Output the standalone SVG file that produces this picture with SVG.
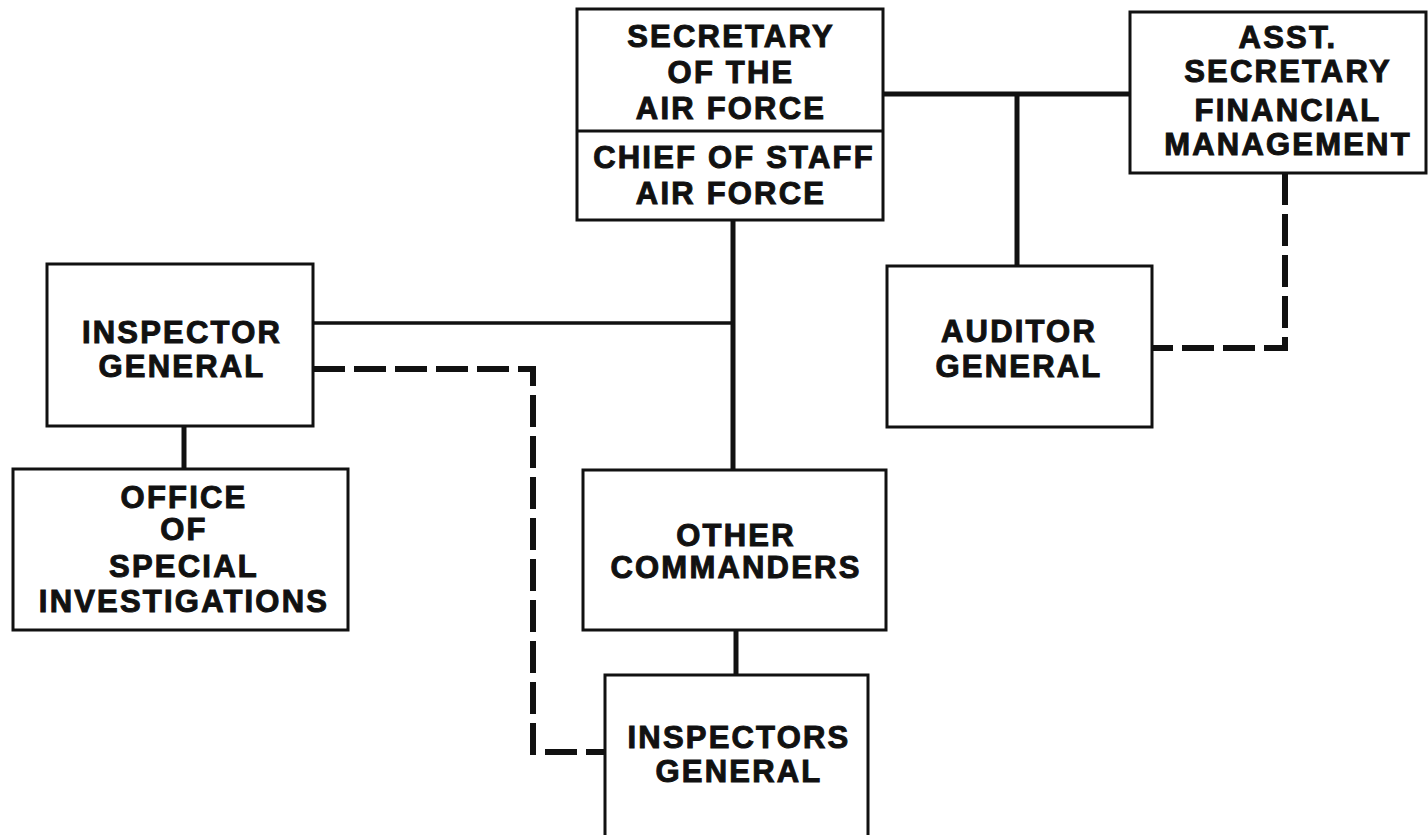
<svg xmlns="http://www.w3.org/2000/svg" width="1428" height="835" viewBox="0 0 1428 835">
<style>
.box{fill:#fff;stroke:#111;stroke-width:3}
.t{font-family:"Liberation Sans",Arial,sans-serif;font-weight:bold;font-size:31px;letter-spacing:2.2px;fill:#111;stroke:#111;stroke-width:1;text-anchor:middle}
.c{fill:none;stroke:#111;stroke-width:5}
.thin{stroke-width:3.5}
.d{fill:none;stroke:#111;stroke-width:6;stroke-dasharray:32,9}
</style>
<rect width="1428" height="835" fill="#fff"/>
<g id="connectors">
<line class="c" x1="883" y1="94" x2="1130" y2="94"/>
<line class="c" x1="1017" y1="94" x2="1017" y2="266"/>
<line class="c" x1="733" y1="220" x2="733" y2="470"/>
<line class="c thin" x1="313" y1="323" x2="733" y2="323"/>
<line class="c" x1="184" y1="426" x2="184" y2="469"/>
<line class="c" x1="736" y1="630" x2="736" y2="675"/>
<polyline class="d" points="1285,173 1285,348 1152,348"/>
<polyline class="d" points="313,369 533,369 533,752 605,752"/>
</g>
<g id="secretary">
<rect class="box" x="577" y="9" width="306" height="211"/>
<line class="box" x1="577" y1="131" x2="883" y2="131"/>
<text class="t" x="731" y="47">SECRETARY</text>
<text class="t" x="731" y="83">OF THE</text>
<text class="t" x="731" y="119">AIR FORCE</text>
<text class="t" x="734" y="168">CHIEF OF STAFF</text>
<text class="t" x="731" y="204">AIR FORCE</text>
</g>
<g id="asst">
<rect class="box" x="1130" y="12" width="296" height="161"/>
<text class="t" x="1288" y="48">ASST.</text>
<text class="t" x="1288" y="82">SECRETARY</text>
<text class="t" x="1288" y="121">FINANCIAL</text>
<text class="t" x="1288" y="155">MANAGEMENT</text>
</g>
<g id="auditor">
<rect class="box" x="887" y="266" width="265" height="161"/>
<text class="t" x="1019" y="342">AUDITOR</text>
<text class="t" x="1019" y="377">GENERAL</text>
</g>
<g id="inspector">
<rect class="box" x="47" y="264" width="266" height="162"/>
<text class="t" x="182" y="343">INSPECTOR</text>
<text class="t" x="182" y="377">GENERAL</text>
</g>
<g id="osi">
<rect class="box" x="13" y="469" width="335" height="161"/>
<text class="t" x="184" y="508">OFFICE</text>
<text class="t" x="184" y="540">OF</text>
<text class="t" x="184" y="577">SPECIAL</text>
<text class="t" x="184" y="612">INVESTIGATIONS</text>
</g>
<g id="other">
<rect class="box" x="583" y="470" width="303" height="160"/>
<text class="t" x="736" y="546">OTHER</text>
<text class="t" x="736" y="578">COMMANDERS</text>
</g>
<g id="inspectors">
<rect class="box" x="605" y="675" width="263" height="175"/>
<text class="t" x="739" y="748">INSPECTORS</text>
<text class="t" x="739" y="782">GENERAL</text>
</g>
</svg>
